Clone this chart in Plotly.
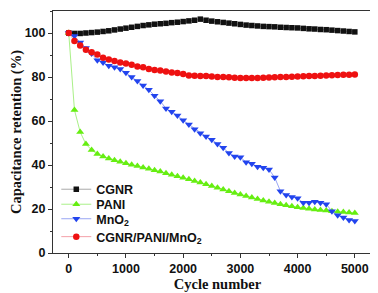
import plotly.graph_objects as go

cycles = list(range(0, 5001, 100))

cgnr = [100, 99.8, 99.8, 100, 100.2, 100.4, 100.7, 101.0, 101.4, 101.8, 102.2,
        102.6, 103.0, 103.4, 103.7, 104.0, 104.2, 104.4, 104.7, 104.9, 105.2,
        105.5, 105.8, 106.3, 105.8, 105.4, 105.1, 104.8, 104.5, 104.2, 103.9,
        103.6, 103.4, 103.2, 103.0, 102.9, 102.8, 102.6, 102.5, 102.4, 102.3,
        102.1, 101.9, 101.8, 101.6, 101.5, 101.3, 101.1, 100.9, 100.7, 100.5]

pani = [100, 65, 55, 49.5, 46.8, 45, 43.9, 43, 42.2, 41.5, 40.8,
        40.1, 39.5, 38.9, 38.3, 37.6, 37, 36.3, 35.6, 34.9, 34.2,
        33.5, 32.7, 32, 31.2, 30.5, 29.7, 28.9, 28.1, 27.3, 26.6,
        25.9, 25.2, 24.5, 23.9, 23.3, 22.7, 22.2, 21.7, 21.2, 20.8,
        20.4, 20.1, 19.8, 19.5, 19.3, 19.0, 18.8, 18.6, 18.4, 18.2]

mno2 = [100, 98.6, 95.7, 93.2, 90.7, 87.6, 86.6, 85.1, 84.4, 83.6, 81.9,
        80, 78.2, 76.1, 74.2, 71.5, 69, 65.7, 64.2, 62.5, 60.3,
        58.4, 56.3, 54.4, 52.9, 51.5, 49.6, 47.8, 45.4, 43.9, 43.5,
        41.3, 40.6, 39.2, 38.8, 38.0, 34.3, 28.1, 26.4, 25.5, 24.9,
        22.8, 22.8, 23.3, 22.8, 22.2, 19.0, 17.2, 16.1, 15.0, 14.6]

composite = [100, 96.4, 94.3, 92.4, 91.3, 90.2, 88.8, 88.0, 87.3, 86.6, 86.1,
             85.6, 84.8, 84.4, 83.6, 83.2, 82.9, 82.5, 82.1, 81.8, 81.4,
             80.7, 80.6, 80.4, 80.4, 80.2, 80.0, 80.0, 79.9, 79.7, 79.6,
             79.6, 79.6, 79.6, 79.7, 79.8, 79.9, 80.0, 80.0, 80.1, 80.2,
             80.3, 80.4, 80.5, 80.6, 80.7, 80.8, 80.9, 81.0, 81.0, 81.1]

names = ["CGNR", "PANI", "MnO<sub>2</sub>", "CGNR/PANI/MnO<sub>2</sub>"]

series = [
    (names[0], cgnr, "#111111", "#aaaaaa", "square", 5.5),
    (names[1], pani, "#66ee11", "#aaf088", "triangle-up", 7),
    (names[2], mno2, "#2244ee", "#9aa6f4", "triangle-down", 7),
    (names[3], composite, "#ee1111", "#f4a0a8", "circle", 6.5),
]

legend_ids = ["legend", "legend2", "legend3", "legend4"]
legend_y = [0.262, 0.200, 0.140, 0.066]

fig = go.Figure()
for (name, vals, mcol, lcol, sym, sz), lid in zip(series, legend_ids):
    fig.add_trace(go.Scatter(
        x=cycles, y=vals, name=name, mode="lines+markers", legend=lid,
        line=dict(color=lcol, width=1),
        marker=dict(color=mcol, symbol=sym, size=sz, line=dict(width=0)),
    ))

axis_common = dict(
    showline=True, linecolor="#333333", linewidth=1, mirror=True,
    ticks="outside", ticklen=4, tickcolor="#333333", tickwidth=1,
    showgrid=False, zeroline=False,
    tickfont=dict(family="Liberation Sans, Arial", size=12.5, color="#111111", weight="bold"),
)

fig.update_xaxes(
    range=[-275, 5475], tickmode="linear", tick0=0, dtick=1000,
    minor=dict(ticks="outside", ticklen=2, dtick=500, tick0=0, tickcolor="#333333"),
    title=dict(text="Cycle number", standoff=1,
               font=dict(family="Liberation Serif, Times New Roman", size=14.5, color="#111111", weight="bold")),
    **axis_common,
)
fig.update_yaxes(
    range=[0, 110], tickmode="linear", tick0=0, dtick=20,
    minor=dict(ticks="outside", ticklen=2, dtick=10, tick0=0, tickcolor="#333333"),
    title=dict(text="Capacitance retention (%)", standoff=4,
               font=dict(family="Liberation Serif, Times New Roman", size=14.5, color="#111111", weight="bold")),
    **axis_common,
)

legend_font = dict(family="Liberation Sans, Arial", size=12.5, color="#111111", weight="bold")
legend_layout = {}
for lid, ly in zip(legend_ids, legend_y):
    legend_layout[lid] = dict(x=0.01, y=ly, xanchor="left", yanchor="middle",
                              bgcolor="rgba(0,0,0,0)", itemwidth=30,
                              font=legend_font)

fig.update_layout(
    width=378, height=293,
    margin=dict(l=45, r=4, t=3, b=48),
    paper_bgcolor="white", plot_bgcolor="white",
    showlegend=True,
    **legend_layout,
)

fig.write_html("out.html")
